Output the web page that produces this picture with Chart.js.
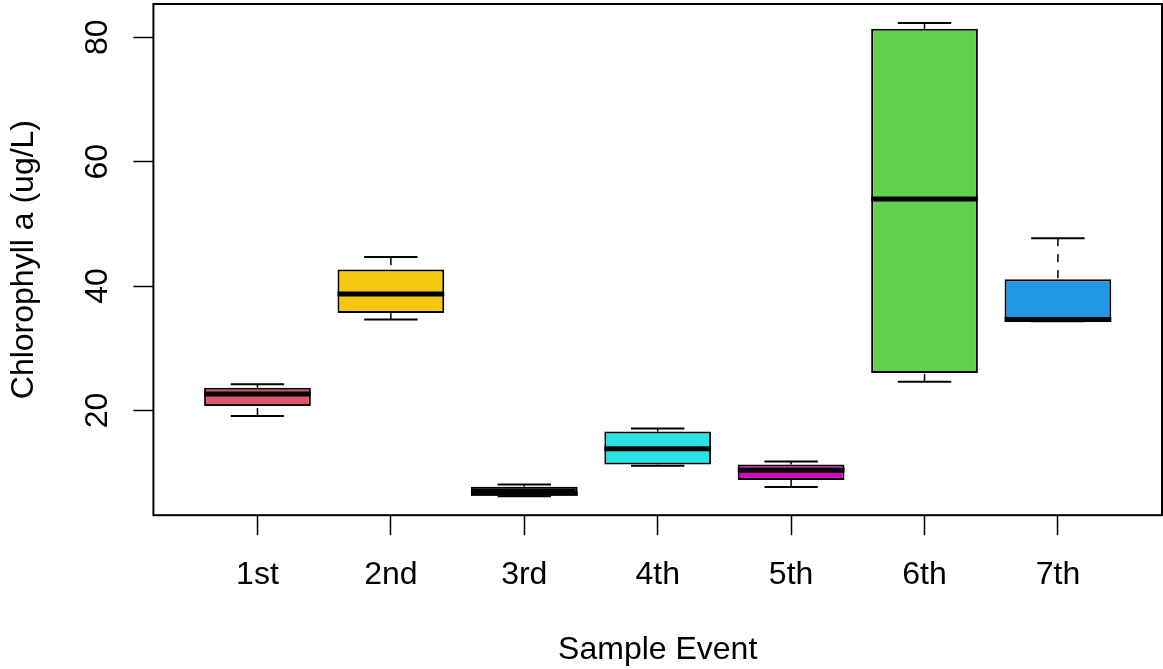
<!DOCTYPE html>
<html>
<head>
<meta charset="utf-8">
<title>Chlorophyll a by sample event</title>
<script src="https://cdn.jsdelivr.net/npm/chart.js@4.4.1/dist/chart.umd.min.js"></script>
<style>
    html, body { margin: 0; padding: 0; background: #ffffff; }
    #wrap { width: 1163px; height: 669px; }
</style>
</head>
<body>
<div id="wrap"><canvas id="boxChart" width="1163" height="669"></canvas></div>
<script>
// box statistics per sample event (ug/L)
const eventLabels = ['1st', '2nd', '3rd', '4th', '5th', '6th', '7th'];
const eventPositions = [1, 2, 3, 4, 5, 6, 7];
const lowerWhisker = [19.1, 34.6, 6.2, 11.1, 7.7, 24.6, 34.35];
const q1 = [20.7, 35.65, 6.3, 11.3, 8.8, 26.0, 34.35];
const median = [22.65, 38.7, 6.7, 13.85, 10.4, 54.0, 34.6];
const q3 = [23.65, 42.65, 7.75, 16.6, 11.3, 81.35, 41.1];
const upperWhisker = [24.2, 44.65, 8.1, 17.1, 11.8, 82.3, 47.7];
const boxColors = ['#DF536B', '#F5C710', '#000000', '#28E2E5', '#CD0BBC', '#61D04F', '#2297E6'];
const yTicks = [20, 40, 60, 80];

const FONT = "'Liberation Sans', Arial, Helvetica, sans-serif";

// R style axis range: 4% padding on each side
const yLo = Math.min(...lowerWhisker);
const yHi = Math.max(...upperWhisker);
const yPad = (yHi - yLo) * 0.04;
const xPad = (eventPositions.length) * 0.04;

function py(chart, v) {
    return chart.scales.y.getPixelForValue(v);
}

const whiskerPlugin = {
    id: 'whiskers',
    beforeDatasetsDraw(chart) {
        const ctx = chart.ctx;
        const bars = chart.getDatasetMeta(0).data;
        ctx.save();
        ctx.strokeStyle = '#000';
        eventPositions.forEach((pos, i) => {
            const cx = chart.scales.x.getPixelForValue(pos);
            const half = bars[i].width / 4;
            // dashed whiskers, drawn from the ends toward the box
            ctx.lineWidth = 1.5;
            ctx.setLineDash([8, 8]);
            ctx.beginPath();
            ctx.moveTo(cx, py(chart, upperWhisker[i]));
            ctx.lineTo(cx, py(chart, q3[i]));
            ctx.stroke();
            ctx.beginPath();
            ctx.moveTo(cx, py(chart, lowerWhisker[i]));
            ctx.lineTo(cx, py(chart, q1[i]));
            ctx.stroke();
            ctx.setLineDash([]);
            // staples
            ctx.lineWidth = 2;
            ctx.beginPath();
            ctx.moveTo(cx - half, py(chart, upperWhisker[i]));
            ctx.lineTo(cx + half, py(chart, upperWhisker[i]));
            ctx.moveTo(cx - half, py(chart, lowerWhisker[i]));
            ctx.lineTo(cx + half, py(chart, lowerWhisker[i]));
            ctx.stroke();
        });
        ctx.restore();
    },
    afterDatasetsDraw(chart) {
        const ctx = chart.ctx;
        const bars = chart.getDatasetMeta(0).data;
        ctx.save();
        ctx.strokeStyle = '#000';
        ctx.lineWidth = 5;
        eventPositions.forEach((pos, i) => {
            const cx = chart.scales.x.getPixelForValue(pos);
            const half = bars[i].width / 2;
            ctx.beginPath();
            ctx.moveTo(cx - half, py(chart, median[i]));
            ctx.lineTo(cx + half, py(chart, median[i]));
            ctx.stroke();
        });
        ctx.restore();
    },
    afterDraw(chart) {
        const ctx = chart.ctx;
        const area = chart.chartArea;
        ctx.save();
        // frame around the plot
        ctx.strokeStyle = '#000';
        ctx.lineWidth = 2;
        ctx.strokeRect(area.left, area.top, area.right - area.left, area.bottom - area.top);
        // rotated y tick labels
        ctx.fillStyle = '#000';
        ctx.font = '32px ' + FONT;
        ctx.textAlign = 'center';
        ctx.textBaseline = 'middle';
        yTicks.forEach(v => {
            ctx.save();
            ctx.translate(area.left - 55, py(chart, v));
            ctx.rotate(-Math.PI / 2);
            ctx.fillText(String(v), 0, 0);
            ctx.restore();
        });
        ctx.restore();
    }
};

const ctx = document.getElementById('boxChart');

new Chart(ctx, {
    type: 'bar',
    data: {
        datasets: [{
            label: 'Chlorophyll a',
            data: eventPositions.map((p, i) => ({ x: p, y: [q1[i], q3[i]] })),
            backgroundColor: boxColors,
            borderColor: '#000',
            borderWidth: 2,
            borderSkipped: false,
            barPercentage: 0.8,
            categoryPercentage: 1.0
        }]
    },
    options: {
        responsive: false,
        animation: false,
        devicePixelRatio: 1,
        layout: {
            padding: { left: 0, right: 1, top: 4, bottom: 0 }
        },
        plugins: {
            legend: { display: false },
            tooltip: { enabled: false },
            title: { display: false }
        },
        scales: {
            x: {
                type: 'linear',
                offset: false,
                min: eventPositions[0] - 0.5 - xPad,
                max: eventPositions[eventPositions.length - 1] + 0.5 + xPad,
                afterBuildTicks: axis => {
                    axis.ticks = eventPositions.map(v => ({ value: v }));
                },
                border: { display: false },
                grid: {
                    offset: false,
                    drawOnChartArea: false,
                    drawTicks: true,
                    tickLength: 20,
                    tickWidth: 1.5,
                    tickColor: '#000'
                },
                ticks: {
                    padding: 21,
                    color: '#000',
                    maxRotation: 0,
                    autoSkip: false,
                    font: { family: FONT, size: 32 },
                    callback: value => eventLabels[eventPositions.indexOf(value)]
                },
                title: {
                    display: true,
                    text: 'Sample Event',
                    color: '#000',
                    font: { family: FONT, size: 32 },
                    padding: { top: 15, bottom: 0 }
                }
            },
            y: {
                min: yLo - yPad,
                max: yHi + yPad,
                afterBuildTicks: axis => {
                    axis.ticks = yTicks.map(v => ({ value: v }));
                },
                border: { display: false },
                grid: {
                    drawOnChartArea: false,
                    drawTicks: true,
                    tickLength: 20,
                    tickWidth: 1.5,
                    tickColor: '#000'
                },
                ticks: { display: false },
                title: {
                    display: true,
                    text: 'Chlorophyll a (ug/L)',
                    color: '#000',
                    font: { family: FONT, size: 32 },
                    padding: { top: 5, bottom: 90 }
                }
            }
        }
    },
    plugins: [whiskerPlugin]
});
</script>
</body>
</html>
